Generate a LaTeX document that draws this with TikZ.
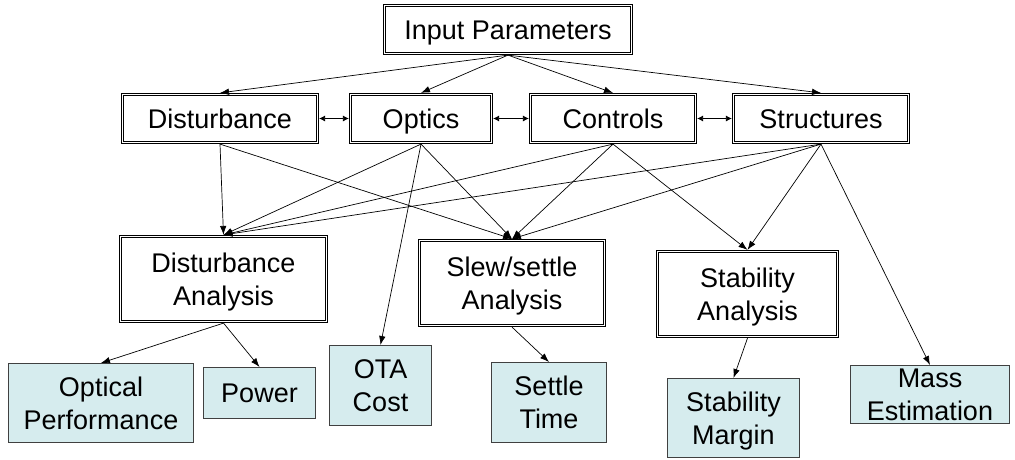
\documentclass[tikz,border=0pt]{standalone}
\usepackage{fontspec}
\setmainfont{Liberation Sans}
\usetikzlibrary{arrows.meta}
\definecolor{leafc}{RGB}{214,236,238}
\begin{document}
\begin{tikzpicture}[x=1pt,y=-1pt,
  txt/.style={align=center, font=\fontsize{27}{33}\selectfont, inner sep=0pt},
  one/.style={text height=19.3pt, text depth=0pt},
  two/.style={text height=52.3pt, text depth=0pt},
  dbox/.style={txt, draw, line width=0.8pt, double, double distance=1.6pt, outer sep=1.6pt},
  leaf/.style={txt, draw=black!75, line width=1pt, fill=leafc},
  arr/.style={-{Latex[length=9pt,width=6.5pt]}, line width=0.7pt},
  darr/.style={{Latex[length=6pt,width=6pt]}-{Latex[length=6pt,width=6pt]}, line width=0.8pt}]
\useasboundingbox (0,0) rectangle (1015,459);

\node[dbox, one, minimum width=247, minimum height=48] (input) at (508,29.5) {Input Parameters};
\node[dbox, one, minimum width=195, minimum height=48] (dist) at (220,118.5) {Disturbance};
\node[dbox, one, minimum width=141, minimum height=48] (optics) at (421,118.5) {Optics};
\node[dbox, one, minimum width=165, minimum height=48] (controls) at (613,118.5) {Controls};
\node[dbox, one, minimum width=175, minimum height=48] (struct) at (821,118.5) {Structures};

\node[dbox, two, minimum width=206, minimum height=85] (da) at (223.5,279) {Disturbance\\Analysis};
\node[dbox, two, minimum width=185, minimum height=85] (slew) at (512,283) {Slew/settle\\Analysis};
\node[dbox, two, minimum width=180, minimum height=85] (stab) at (747.5,294) {Stability\\Analysis};

\node[leaf, two, minimum width=185, minimum height=79] (optperf) at (101,403) {Optical\\Performance};
\node[leaf, one, minimum width=112, minimum height=51] (power) at (259.5,393) {Power};
\node[leaf, two, minimum width=102, minimum height=80] (ota) at (380.5,385.5) {OTA\\Cost};
\node[leaf, two, minimum width=115, minimum height=80] (settle) at (549,402.5) {Settle\\Time};
\node[leaf, two, minimum width=132, minimum height=79] (stabm) at (733.5,418) {Stability\\Margin};
\node[leaf, two, minimum width=159, minimum height=58] (mass) at (930,394.5) {Mass\\Estimation};

\draw[arr] (input.south) -- (dist.north);
\draw[arr] (input.south) -- (optics.north);
\draw[arr] (input.south) -- (controls.north);
\draw[arr] (input.south) -- (struct.north);

\draw[darr] (dist.east) -- (optics.west);
\draw[darr] (optics.east) -- (controls.west);
\draw[darr] (controls.east) -- (struct.west);

\draw[arr] (dist.south) -- (da.north);
\draw[arr] (dist.south) -- (slew.north);
\draw[arr] (optics.south) -- (da.north);
\draw[arr] (optics.south) -- (slew.north);
\draw[arr] (optics.south) -- (ota.north);
\draw[arr] (controls.south) -- (da.north);
\draw[arr] (controls.south) -- (slew.north);
\draw[arr] (controls.south) -- (stab.north);
\draw[arr] (struct.south) -- (da.north);
\draw[arr] (struct.south) -- (slew.north);
\draw[arr] (struct.south) -- (stab.north);
\draw[arr] (struct.south) -- (mass.north);

\draw[arr] (da.south) -- (optperf.north);
\draw[arr] (da.south) -- (power.north);
\draw[arr] (slew.south) -- (settle.north);
\draw[arr] (stab.south) -- (stabm.north);
\end{tikzpicture}
\end{document}
